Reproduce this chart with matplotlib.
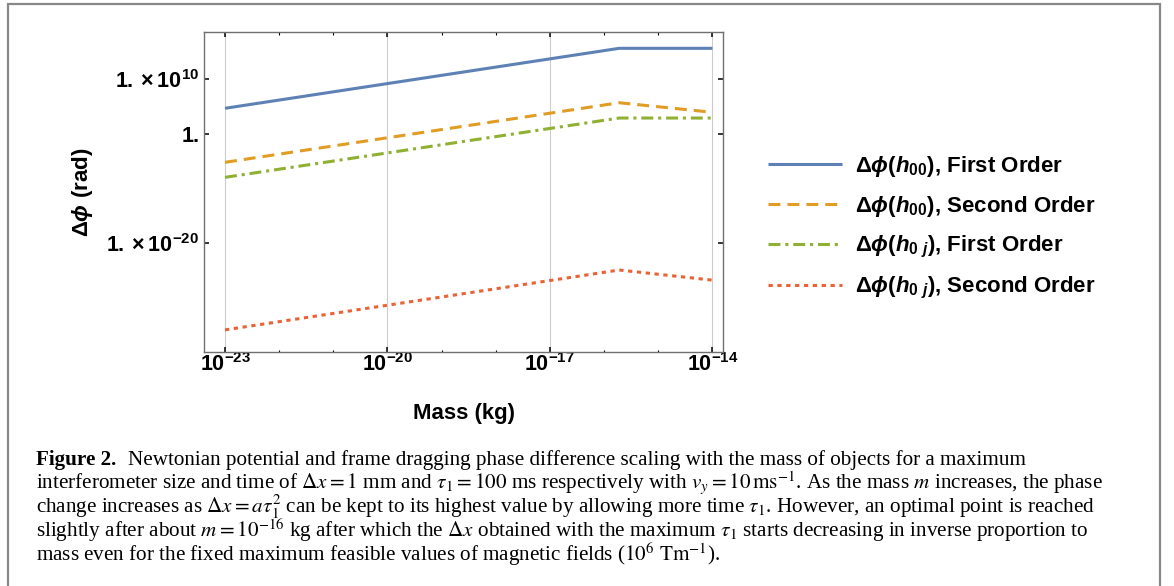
import matplotlib
matplotlib.use("Agg")
import matplotlib.pyplot as plt
from matplotlib.lines import Line2D
from matplotlib.ticker import FixedLocator, FixedFormatter, NullFormatter

# ---------------- data ----------------
mass = [1e-23, 1.9e-16, 1e-14]
h00_first = [10**4.63, 10**15.6, 10**15.6]
h00_second = [10**-5.25, 10**5.65, 10**3.9]
h0j_first = [10**-8.0, 10**2.85, 10**2.85]
h0j_second = [10**-35.9, 10**-24.95, 10**-26.8]

series_labels = [
    r"$\Delta\mathit{\phi}(\mathit{h}_{00})$, First Order",
    r"$\Delta\mathit{\phi}(\mathit{h}_{00})$, Second Order",
    r"$\Delta\mathit{\phi}(\mathit{h}_{0\ j})$, First Order",
    r"$\Delta\mathit{\phi}(\mathit{h}_{0\ j})$, Second Order",
]
x_major = [1e-23, 1e-20, 1e-17, 1e-14]
x_major_labels = [r"$10^{-23}$", r"$10^{-20}$", r"$10^{-17}$", r"$10^{-14}$"]
x_minor = [1e-22, 1e-21, 1e-19, 1e-18, 1e-16, 1e-15]
y_major = [1e-20, 1.0, 1e10]
y_major_labels = [r"$1.\times10^{-20}$", r"$1.$", r"$1.\times10^{10}$"]

caption_head = "Figure 2."
caption_lines = [
    "Newtonian potential and frame dragging phase difference scaling with the mass of objects for a maximum",
    r"interferometer size and time of $\Delta x = 1$ mm and $\tau_1 = 100$ ms respectively with $v_y = 10\,\mathrm{ms}^{-1}$. As the mass $m$ increases, the phase",
    r"change increases as $\Delta x = a\tau_1^2$ can be kept to its highest value by allowing more time $\tau_1$. However, an optimal point is reached",
    r"slightly after about $m = 10^{-16}$ kg after which the $\Delta x$ obtained with the maximum $\tau_1$ starts decreasing in inverse proportion to",
    r"mass even for the fixed maximum feasible values of magnetic fields ($10^6\ \mathrm{Tm}^{-1}$).",
]

# ---------------- style ----------------
plt.rcParams.update({
    "font.family": ["Liberation Sans", "DejaVu Sans"],
    "mathtext.fontset": "custom",
    "mathtext.rm": "Liberation Sans:bold",
    "mathtext.bf": "Liberation Sans:bold",
    "mathtext.it": "Liberation Sans:italic:bold",
    "mathtext.sf": "Liberation Sans:bold",
    "mathtext.fallback": "stixsans",
})

W, H = 1174, 586
fig = plt.figure(figsize=(W / 100, H / 100), dpi=100)
fig.patch.set_facecolor("white")

ax_l, ax_r, ax_t, ax_b = 204.3, 722.7, 32.3, 352.3
ax = fig.add_axes([ax_l / W, 1 - ax_b / H, (ax_r - ax_l) / W, (ax_b - ax_t) / H])

colors = ["#5E81B5", "#E19C24", "#8FB032", "#EB6235"]
styles = ["-", (0, (3.9, 2.3)), (0, (3.9, 1.6, 1.0, 1.6)), (0, (1.4, 1.5))]
series = [h00_first, h00_second, h0j_first, h0j_second]
lw = 2.2
for vals, c, ls, lab in zip(series, colors, styles, series_labels):
    ax.plot(mass, vals, color=c, ls=ls, lw=lw, label=lab,
            solid_capstyle="butt", dash_capstyle="butt")

ax.set_xscale("log")
ax.set_yscale("log")
ax.set_xlim(10**-23.383, 10**-13.81)
ax.set_ylim(10**-40.0, 10**18.53)

ax.xaxis.set_major_locator(FixedLocator(x_major))
ax.xaxis.set_major_formatter(FixedFormatter(x_major_labels))
ax.xaxis.set_minor_locator(FixedLocator(x_minor))
ax.xaxis.set_minor_formatter(NullFormatter())
ax.yaxis.set_major_locator(FixedLocator(y_major))
ax.yaxis.set_major_formatter(FixedFormatter(y_major_labels))
ax.yaxis.set_minor_locator(FixedLocator([]))

ax.tick_params(axis="both", which="major", direction="in", length=3.8, width=1.1,
               color="black", labelsize=15.5, top=True, right=True)
ax.tick_params(axis="both", which="minor", direction="in", length=1.8, width=0.8,
               color="black", top=True, right=True)
ax.tick_params(axis="x", which="major", pad=0.8)
ax.tick_params(axis="y", which="major", pad=3.5)

for s in ax.spines.values():
    s.set_color("#6f6f6f")
    s.set_linewidth(1.0)

ax.grid(True, axis="x", which="major", color="#cccccc", lw=0.8)
ax.set_axisbelow(True)

ax.set_xlabel("Mass (kg)", fontsize=16, fontweight="bold")
ax.set_ylabel(r"$\Delta\mathit{\phi}$ (rad)", fontsize=16, fontweight="bold")
ax.xaxis.set_label_coords(0.5, -0.158)
ax.yaxis.set_label_coords(-0.211, 0.5)

leg = fig.legend(loc="center left", bbox_to_anchor=(768 / W, 1 - 227.5 / H),
                 frameon=False, prop={"family": ["Liberation Sans", "DejaVu Sans"],
                                      "weight": "bold", "size": 16},
                 handlelength=3.33, handletextpad=0.59,
                 labelspacing=0.67, borderpad=0, borderaxespad=0)

# ---------------- border ----------------
bx0, bx1, by0 = 7.5, 1160, 3.5
fig.add_artist(Line2D([bx0 / W, bx0 / W, bx1 / W, bx1 / W], [0, 1 - by0 / H, 1 - by0 / H, 0],
                      transform=fig.transFigure, color="#888888", lw=1.6,
                      solid_joinstyle="miter"))

# ---------------- caption ----------------
fig.canvas.draw()
renderer = fig.canvas.get_renderer()
base = 14.0
serif = ["Liberation Serif", "DejaVu Serif"]
cap_kw = dict(family=serif, fontweight="normal",
              math_fontfamily="stix", va="baseline", ha="left")
starts = [128, 36, 36, 36, 36]
ends = [1022, 1128, 1098, 1107, 710]
baselines = [465, 489.5, 513.5, 537.5, 561.5]
texts = []
ratios = []
for line, x0, x1, yb in zip(caption_lines, starts, ends, baselines):
    t = fig.text(x0 / W, 1 - yb / H, line, fontsize=base, **cap_kw)
    wpx = t.get_window_extent(renderer).width
    ratios.append((x1 - x0) / wpx)
    texts.append(t)
ratios.sort()
scale = (ratios[1] + ratios[2] + ratios[3]) / 3
for t in texts:
    t.set_fontsize(base * scale)
fig.text(36 / W, 1 - baselines[0] / H, caption_head, fontsize=base * scale,
         family=serif, fontweight="bold", va="baseline", ha="left")

fig.savefig("out.png", dpi=100, facecolor="white")
